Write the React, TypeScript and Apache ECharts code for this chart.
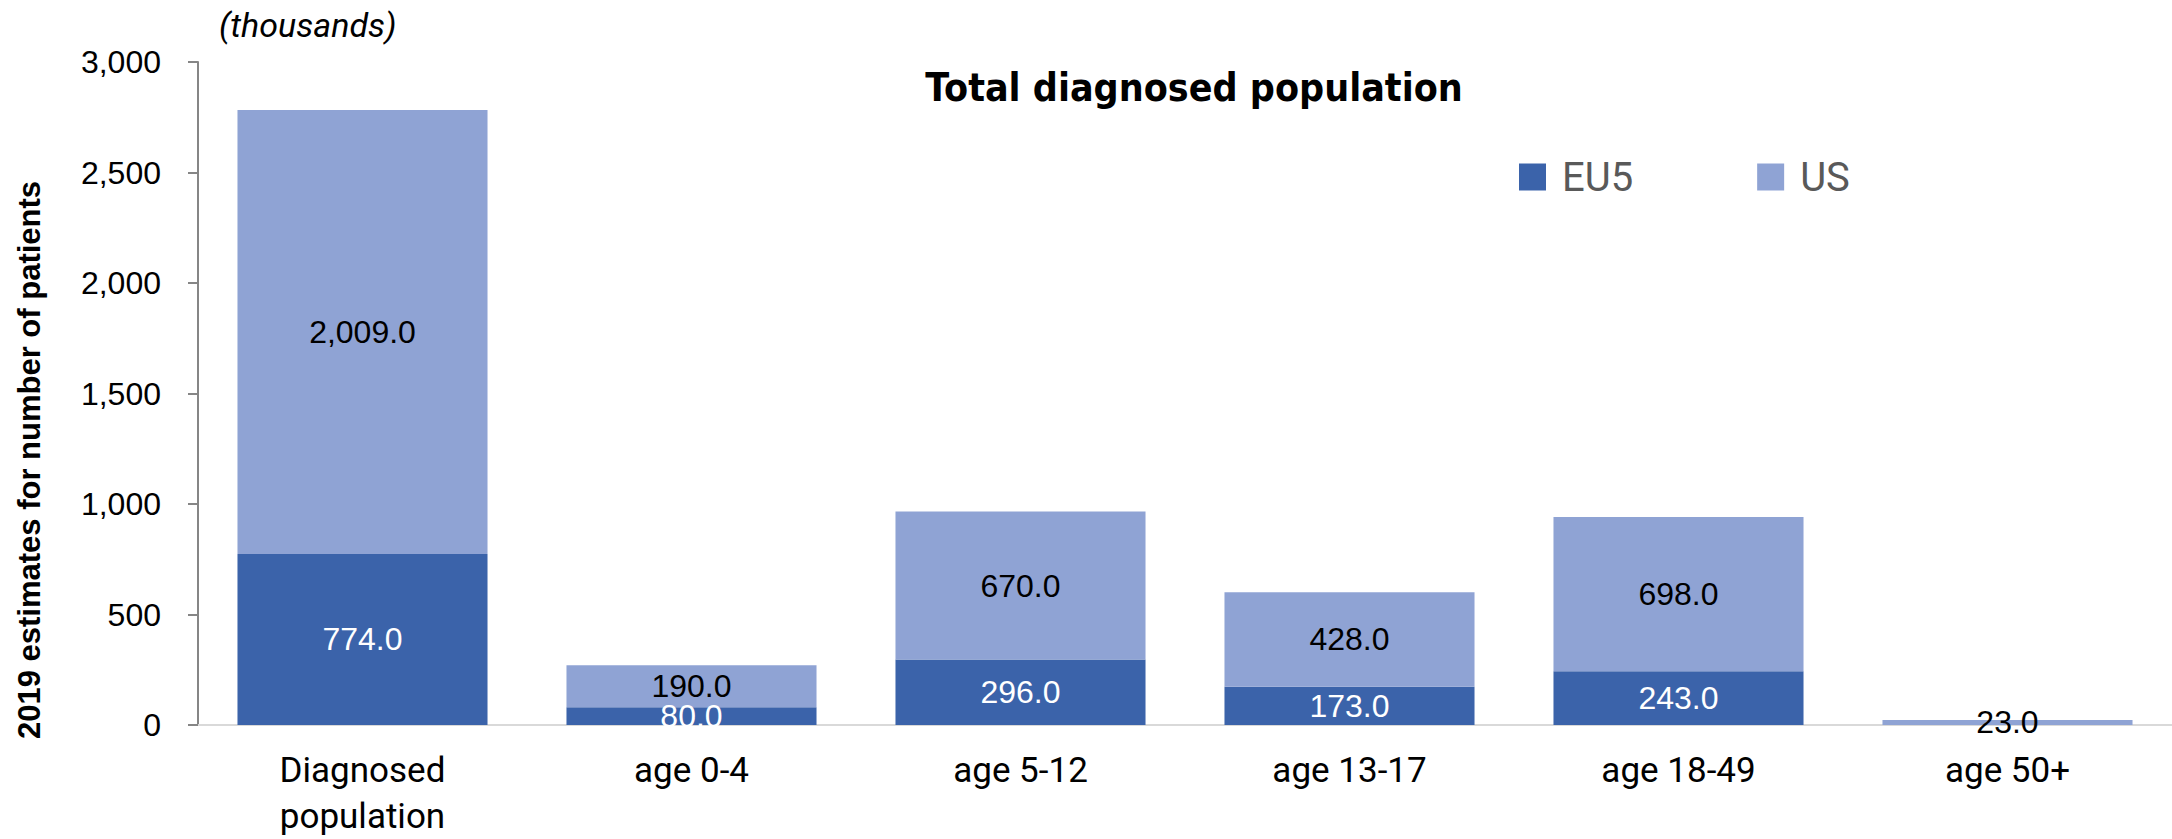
import React, { useEffect, useRef } from "react";
import * as echarts from "echarts";

const categories = ["Diagnosed\npopulation", "age 0-4", "age 5-12", "age 13-17", "age 18-49", "age 50+"];
const eu5Values = [774, 80, 296, 173, 243, 0];
const usValues = [2009, 190, 670, 428, 698, 23];
const yTicks = { min: 0, max: 3000, interval: 500 };
const seriesNames = ["EU5", "US"];

const ROBOTO = "Roboto, 'Noto Sans', sans-serif";
const ARIAL = "'Liberation Sans', Arial, sans-serif";
const CONDENSED = "'DejaVu Sans Condensed', 'DejaVu Sans', sans-serif";

const fmt = (v: number) =>
  v === 0 ? "" : v.toLocaleString("en-US", { minimumFractionDigits: 1, maximumFractionDigits: 1 });

export default function App() {
  const ref = useRef<HTMLDivElement>(null);
  useEffect(() => {
    if (!ref.current) return;
    const chart = echarts.init(ref.current, undefined, { renderer: "svg" });
    chart.setOption({
      animation: false,
      backgroundColor: "#ffffff",
      textStyle: { fontFamily: ROBOTO },
      graphic: [
        {
          type: "text",
          x: 219,
          y: 25,
          style: {
            text: "(thousands)",
            fontFamily: ROBOTO,
            fontStyle: "italic",
            fontSize: 34,
            fill: "#000",
            textAlign: "left",
            textVerticalAlign: "middle",
          },
        },
        {
          type: "text",
          x: 1194,
          y: 87,
          style: {
            text: "Total diagnosed population",
            fontFamily: CONDENSED,
            fontWeight: "bold",
            fontSize: 39,
            fill: "#000",
            textAlign: "center",
            textVerticalAlign: "middle",
          },
        },
        {
          type: "text",
          x: 29,
          y: 460,
          rotation: Math.PI / 2,
          style: {
            text: "2019 estimates for number of patients",
            fontFamily: ARIAL,
            fontWeight: "bold",
            fontSize: 31,
            fill: "#000",
            textAlign: "center",
            textVerticalAlign: "middle",
          },
        },
      ],
      legend: {
        data: seriesNames,
        left: 1514,
        top: 152,
        itemWidth: 27,
        itemHeight: 27,
        itemGap: 124,
        icon: "rect",
        textStyle: { fontFamily: ROBOTO, fontSize: 40, color: "#595959", padding: [0, 0, 0, 11] },
      },
      grid: { left: 198, right: 0, top: 62, bottom: 113, containLabel: false },
      xAxis: {
        type: "category",
        data: categories,
        axisLine: { lineStyle: { color: "#D9D9D9", width: 2 } },
        axisTick: { show: false },
        axisLabel: { fontFamily: ROBOTO, fontSize: 35, color: "#000", margin: 22, lineHeight: 46 },
      },
      yAxis: {
        type: "value",
        min: yTicks.min,
        max: yTicks.max,
        interval: yTicks.interval,
        axisLine: { show: true, lineStyle: { color: "#868686", width: 2 } },
        axisTick: { show: true, length: 10, lineStyle: { color: "#868686", width: 2 } },
        splitLine: { show: false },
        axisLabel: {
          fontFamily: ARIAL,
          fontSize: 32,
          color: "#000",
          margin: 37,
          formatter: (v: number) => v.toLocaleString("en-US"),
        },
      },
      series: [
        {
          name: seriesNames[0],
          type: "bar",
          stack: "total",
          data: eu5Values,
          barCategoryGap: "24%",
          itemStyle: { color: "#3B63AA" },
          label: {
            show: true,
            position: "inside",
            color: "#ffffff",
            fontFamily: ARIAL,
            fontSize: 32,
            formatter: (p: any) => fmt(p.value),
          },
        },
        {
          name: seriesNames[1],
          type: "bar",
          stack: "total",
          data: usValues,
          barCategoryGap: "24%",
          itemStyle: { color: "#8FA3D4" },
          label: {
            show: true,
            position: "inside",
            color: "#000000",
            fontFamily: ARIAL,
            fontSize: 32,
            formatter: (p: any) => fmt(p.value),
          },
        },
      ],
    });
    return () => chart.dispose();
  }, []);
  return (
    <div
      ref={ref}
      style={{ position: "absolute", left: 0, top: 0, width: 2172, height: 839 }}
    />
  );
}
